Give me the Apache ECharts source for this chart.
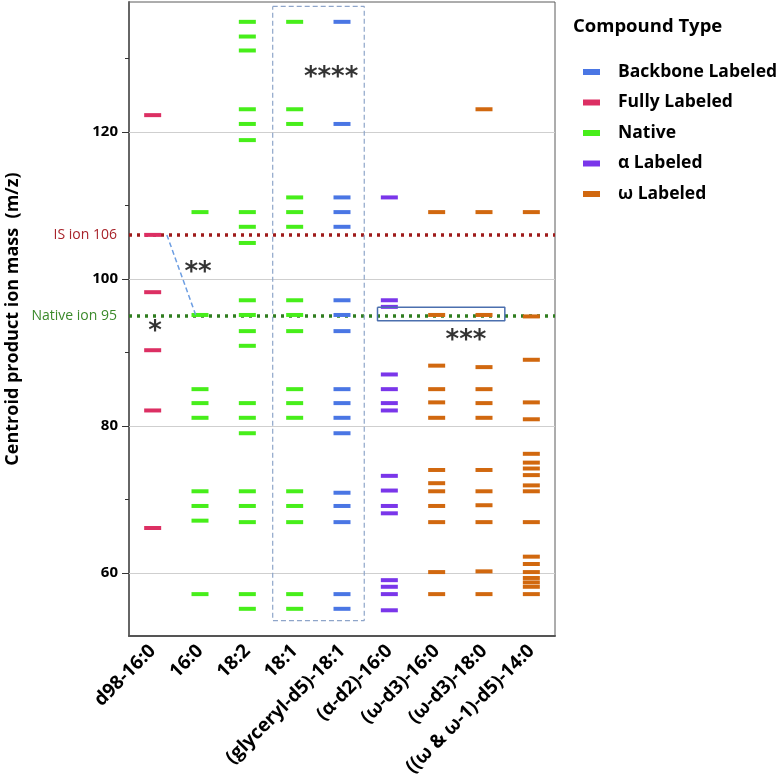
<!DOCTYPE html>
<html>
<head>
<meta charset="utf-8">
<script src="https://cdn.jsdelivr.net/npm/echarts@6/dist/echarts.min.js"></script>
<style>html,body{margin:0;padding:0;background:#fff}#c{width:780px;height:782px}</style>
</head>
<body>
<div id="c"></div>
<script>
const categories = ['d98-16:0','16:0','18:2','18:1','(glyceryl-d5)-18:1','(α-d2)-16:0','(ω-d3)-16:0','(ω-d3)-18:0','((ω & ω-1)-d5)-14:0'];
const typeNames = ['Backbone Labeled','Fully Labeled','Native','α Labeled','ω Labeled'];
const typeColors = ['#4a76e4','#dc2f63','#47ee1a','#7a36ea','#d1680f'];

const d98_16_0 = [122.3, 106.0, 98.2, 90.3, 82.1, 66.1];
const native_16_0 = [109.1, 95.1, 85.0, 83.1, 81.1, 71.1, 69.1, 67.1, 57.1];
const native_18_2 = [135.0, 133.0, 131.1, 123.1, 121.1, 118.9, 109.1, 107.1, 104.9, 97.1, 95.1, 92.9, 90.9, 83.1, 81.1, 79.0, 71.1, 69.1, 66.9, 57.1, 55.1];
const native_18_1 = [135.0, 123.1, 121.1, 111.1, 109.1, 107.1, 97.1, 95.1, 92.9, 85.0, 83.1, 81.1, 71.1, 69.1, 66.9, 57.1, 55.1];
const glyceryl_d5_18_1 = [135.0, 121.1, 111.1, 109.1, 107.1, 97.1, 95.1, 92.9, 85.0, 83.1, 81.1, 79.0, 70.9, 69.1, 66.9, 57.1, 55.1];
const alpha_d2_16_0 = [111.1, 97.1, 96.2, 87.0, 85.0, 83.1, 82.1, 73.2, 71.2, 69.1, 68.1, 59.0, 58.1, 57.1, 54.9];
const omega_d3_16_0 = [109.1, 95.1, 88.2, 85.0, 83.2, 81.1, 74.0, 72.2, 71.1, 69.1, 66.9, 60.1, 57.1];
const omega_d3_18_0 = [123.1, 109.1, 95.1, 88.0, 85.0, 83.1, 81.1, 74.0, 71.1, 69.2, 66.9, 60.2, 57.1];
const omega_d5_14_0 = [109.1, 94.9, 89.0, 83.2, 80.9, 76.2, 75.0, 74.2, 73.3, 71.9, 71.1, 66.9, 62.2, 61.2, 60.1, 59.3, 58.7, 58.1, 57.1];

const columns = [
  {cat: categories[0], type: 'Fully Labeled', values: d98_16_0},
  {cat: categories[1], type: 'Native', values: native_16_0},
  {cat: categories[2], type: 'Native', values: native_18_2},
  {cat: categories[3], type: 'Native', values: native_18_1},
  {cat: categories[4], type: 'Backbone Labeled', values: glyceryl_d5_18_1},
  {cat: categories[5], type: 'α Labeled', values: alpha_d2_16_0},
  {cat: categories[6], type: 'ω Labeled', values: omega_d3_16_0},
  {cat: categories[7], type: 'ω Labeled', values: omega_d3_18_0},
  {cat: categories[8], type: 'ω Labeled', values: omega_d5_14_0}
];

const yMin = 51.4, yMax = 137.7;
const yLabelValues = [60, 80, 100, 120];
const yMinorTickValues = [60, 70, 80, 90, 100, 110, 120, 130];
const refLines = [
  {value: 106, label: 'IS ion 106', color: '#9e1a1a', labelColor: '#a8232a'},
  {value: 95, label: 'Native ion 95', color: '#2f7d1f', labelColor: '#3b8a2b'}
];
// annotation coordinates in category units (hidden value axis from -0.5 to 8.5)
const diagLine = [[0.30, 106], [0.915, 95]];
const dashBox = [[2.536, 137.1], [4.47, 137.1], [4.47, 53.5], [2.536, 53.5], [2.536, 137.1]];
const solidBox = [[4.75, 96.15], [7.44, 96.15], [7.44, 94.3], [4.75, 94.3], [4.75, 96.15]];
const stars = [
  {name: '*', value: [0.05, 93.5]},
  {name: '**', value: [0.96, 101.6]},
  {name: '***', value: [6.62, 92.3]},
  {name: '****', value: [3.77, 128.2]}
];

const FONT = "'Open Sans', 'Noto Sans', sans-serif";
const chart = echarts.init(document.getElementById('c'), null, {renderer: 'canvas'});

const typeSeries = typeNames.map((t, i) => ({
  name: t,
  type: 'scatter',
  xAxisIndex: 0, yAxisIndex: 0,
  symbol: 'rect',
  symbolSize: [17, 4],
  itemStyle: {color: typeColors[i], opacity: 1},
  z: 5,
  data: columns.filter(c => c.type === t).flatMap(c => c.values.map(v => [c.cat, v]))
}));

const option = {
  animation: false,
  textStyle: {fontFamily: FONT},
  grid: {left: 129, right: 225, top: 2, bottom: 146, containLabel: false, outerBoundsMode: 'none',
    show: true, borderColor: '#5a5a5a', borderWidth: 1, backgroundColor: 'transparent'},
  title: {text: 'Compound Type', left: 568, top: 12, textStyle: {fontFamily: FONT, fontWeight: 'bold', fontSize: 18.5, color: '#000'}},
  legend: {
    orient: 'vertical', left: 578, top: 57,
    data: typeNames,
    icon: 'rect', itemWidth: 17, itemHeight: 6, itemGap: 10.5,
    itemStyle: {opacity: 1},
    textStyle: {fontFamily: FONT, fontWeight: 'bold', fontSize: 17.5, color: '#000', lineHeight: 20, padding: [0, 0, 0, 13]}
  },
  xAxis: [
    {type: 'category', data: categories, boundaryGap: true,
     axisLine: {onZero: false, lineStyle: {color: '#555', width: 2}},
     axisTick: {show: false},
     axisLabel: {rotate: 45, interval: 0, margin: 12, fontFamily: FONT, fontWeight: 'bold', fontSize: 19, color: '#000'},
     splitLine: {show: false}},
    {type: 'value', min: -0.5, max: 8.5, show: false}
  ],
  yAxis: [
    {
      type: 'value', min: yMin, max: yMax, position: 'left',
      name: 'Centroid product ion mass  (m/z)', nameLocation: 'middle', nameGap: 107,
      nameTextStyle: {fontFamily: FONT, fontWeight: 'bold', fontSize: 18, color: '#000'},
      axisLine: {show: true, onZero: false, lineStyle: {color: '#666', width: 2}},
      axisTick: {show: true, length: 4, customValues: yMinorTickValues, lineStyle: {color: '#333'}},
      axisLabel: {margin: 11, customValues: yLabelValues, fontFamily: FONT, fontWeight: 'bold', fontSize: 15, color: '#000'},
      splitLine: {show: false}
    },
    {
      type: 'value', min: yMin, max: yMax, position: 'left',
      axisLine: {show: false, onZero: false},
      axisTick: {show: true, length: 7, customValues: yLabelValues, lineStyle: {color: '#333'}},
      axisLabel: {show: false},
      splitLine: {show: false}
    }
  ],
  series: [
    {
      name: 'grid', type: 'line', xAxisIndex: 1, yAxisIndex: 0, data: [], silent: true, z: 1,
      markLine: {silent: true, symbol: 'none', animation: false,
        lineStyle: {color: '#cfcfcf', width: 1, type: 'solid'}, label: {show: false},
        data: yLabelValues.map(v => ({yAxis: v}))}
    },
    ...typeSeries,
    {
      name: 'refs', type: 'line', xAxisIndex: 1, yAxisIndex: 0, data: [], silent: true, z: 6,
      markLine: {silent: true, symbol: 'none', animation: false,
        data: refLines.map(r => ({yAxis: r.value,
          lineStyle: {color: r.color, width: 3.5, type: [3, 5], cap: 'butt'},
          label: {show: true, position: 'start', distance: 12, formatter: r.label, color: r.labelColor, fontFamily: FONT, fontSize: 14}}))}
    },
    {name: 'diag', type: 'line', xAxisIndex: 1, yAxisIndex: 0, data: diagLine, symbol: 'none', silent: true, z: 7,
     lineStyle: {color: '#6d9ee2', width: 1.5, type: [5, 3]}},
    {name: 'dashBox', type: 'line', xAxisIndex: 1, yAxisIndex: 0, data: dashBox, symbol: 'none', silent: true, z: 7,
     lineStyle: {color: '#8ea5c9', width: 1.2, type: [5, 3]}},
    {name: 'solidBox', type: 'line', xAxisIndex: 1, yAxisIndex: 0, data: solidBox, symbol: 'none', silent: true, z: 7,
     lineStyle: {color: '#4b6fae', width: 1.5}},
    {name: 'stars', type: 'scatter', xAxisIndex: 1, yAxisIndex: 0, data: stars, symbolSize: 0, silent: true, z: 8,
     label: {show: true, position: 'inside', formatter: p => p.name, fontFamily: "'DejaVu Sans', sans-serif", fontWeight: 'bold', fontSize: 26, color: '#000', offset: [0, 6]}}
  ]
};
chart.setOption(option);
</script>
</body>
</html>
